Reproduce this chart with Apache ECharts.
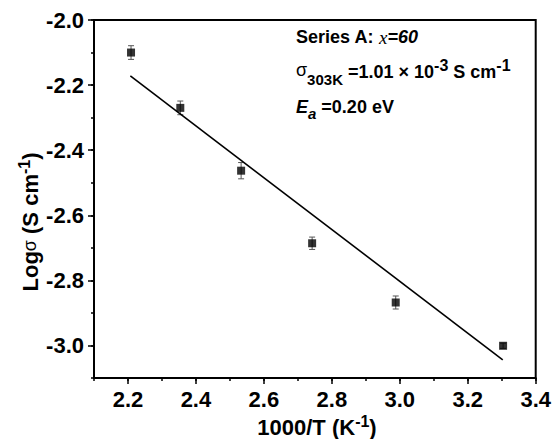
<!DOCTYPE html>
<html>
<head>
<meta charset="utf-8">
<script src="https://cdn.jsdelivr.net/npm/echarts@6/dist/echarts.min.js"></script>
<style>
  html, body { margin: 0; padding: 0; background: #fff; }
  #chart { width: 554px; height: 439px; }
</style>
</head>
<body>
<div id="chart"></div>
<script>
// measured points (1000/T, log sigma) with error bars
const xVals = [2.209, 2.354, 2.533, 2.742, 2.988, 3.304];
const yVals = [-2.100, -2.270, -2.463, -2.686, -2.868, -3.001];
const yErr = [0.021, 0.021, 0.025, 0.019, 0.020, 0.008];

// linear fit end points
const fitX = [2.207, 3.303];
const fitY = [-2.172, -3.044];

// major tick labels
const xMajor = [2.2, 2.4, 2.6, 2.8, 3.0, 3.2, 3.4];
const yMajor = [-3.0, -2.8, -2.6, -2.4, -2.2, -2.0];

const FONT = "'Liberation Sans', Arial, sans-serif";
const chart = echarts.init(document.getElementById('chart'), null, {renderer: 'svg'});

const lbl = {
  fontFamily: FONT,
  fontSize: 22,
  fontWeight: 'bold',
  color: '#000',
  formatter: v => v.toFixed(1)
};
const tickStyle = {color: '#000', width: 1.5};

const option = {
  animation: false,
  backgroundColor: '#fff',
  grid: {
    left: 94, right: 16, top: 20, bottom: 61,
    show: true, borderColor: '#000', borderWidth: 2
  },
  xAxis: [
    {
      type: 'value', min: 2.1, max: 3.4, interval: 0.1,
      axisLine: {show: true, lineStyle: {color: '#000', width: 2}},
      axisTick: {show: true, length: 3, lineStyle: tickStyle},
      axisLabel: {show: false},
      splitLine: {show: false}
    },
    {
      type: 'value', position: 'bottom', min: 2.1, max: 3.4,
      axisLine: {show: false},
      axisTick: {show: true, length: 6, customValues: xMajor, lineStyle: tickStyle},
      axisLabel: Object.assign({customValues: xMajor, margin: 10}, lbl),
      splitLine: {show: false}
    }
  ],
  yAxis: [
    {
      type: 'value', min: -3.1, max: -2.0, interval: 0.1,
      axisLine: {show: true, lineStyle: {color: '#000', width: 2}},
      axisTick: {show: true, length: 3, lineStyle: tickStyle},
      axisLabel: {show: false},
      splitLine: {show: false}
    },
    {
      type: 'value', position: 'left', min: -3.1, max: -2.0,
      axisLine: {show: false},
      axisTick: {show: true, length: 6, customValues: yMajor, lineStyle: tickStyle},
      axisLabel: Object.assign({customValues: yMajor, margin: 10}, lbl),
      splitLine: {show: false}
    }
  ],
  series: [
    {
      // error bars
      type: 'custom',
      xAxisIndex: 0, yAxisIndex: 0,
      data: xVals.map((x, i) => [x, yVals[i], yErr[i]]),
      encode: {x: 0, y: 1},
      renderItem: function (params, api) {
        const x = api.value(0), y = api.value(1), e = api.value(2);
        const top = api.coord([x, y + e]);
        const bot = api.coord([x, y - e]);
        const w = 3;
        const st = {stroke: '#555', lineWidth: 1};
        return {
          type: 'group',
          children: [
            {type: 'line', shape: {x1: top[0], y1: top[1], x2: bot[0], y2: bot[1]}, style: st},
            {type: 'line', shape: {x1: top[0] - w, y1: top[1], x2: top[0] + w, y2: top[1]}, style: st},
            {type: 'line', shape: {x1: bot[0] - w, y1: bot[1], x2: bot[0] + w, y2: bot[1]}, style: st}
          ]
        };
      },
      z: 2
    },
    {
      type: 'scatter',
      xAxisIndex: 0, yAxisIndex: 0,
      data: xVals.map((x, i) => [x, yVals[i]]),
      symbol: 'rect',
      symbolSize: 8,
      itemStyle: {color: '#000'},
      z: 3
    },
    {
      type: 'line',
      xAxisIndex: 0, yAxisIndex: 0,
      data: fitX.map((x, i) => [x, fitY[i]]),
      showSymbol: false,
      symbol: 'none',
      lineStyle: {color: '#000', width: 1.6},
      z: 4
    }
  ],
  graphic: [
    {
      type: 'text', x: 296, y: 37,
      style: {
        text: '{b|Series A: }{xi|x}{bi|=60}',
        verticalAlign: 'middle', align: 'left',
        rich: {
          b: {fontFamily: FONT, fontSize: 18, fontWeight: 'bold', fill: '#000'},
          xi: {fontFamily: "'Liberation Serif', serif", fontSize: 19, fontStyle: 'italic', fill: '#000'},
          bi: {fontFamily: FONT, fontSize: 18, fontWeight: 'bold', fontStyle: 'italic', fill: '#000'}
        }
      }
    },
    {
      type: 'text', x: 296, y: 72,
      style: {
        text: '{s|σ}{sub|303K}{b| =1.01 × 10}{sup|-3}{b| S cm}{sup|-1}',
        verticalAlign: 'middle', align: 'left',
        rich: {
          s: {fontFamily: FONT, fontSize: 18, fill: '#000', lineHeight: 18, padding: [0, 0, 4, 0]},
          b: {fontFamily: FONT, fontSize: 18, fontWeight: 'bold', fill: '#000', lineHeight: 18},
          sub: {fontFamily: FONT, fontSize: 15, fontWeight: 'bold', fill: '#000', lineHeight: 15, padding: [14, 0, 0, 0]},
          sup: {fontFamily: FONT, fontSize: 16, fontWeight: 'bold', fill: '#000', lineHeight: 16, padding: [0, 0, 13, 0]}
        }
      }
    },
    {
      type: 'text', x: 296, y: 107,
      style: {
        text: '{bi|E}{sub|a}{b| =0.20 eV}',
        verticalAlign: 'middle', align: 'left',
        rich: {
          bi: {fontFamily: FONT, fontSize: 18, fontWeight: 'bold', fontStyle: 'italic', fill: '#000', lineHeight: 18},
          b: {fontFamily: FONT, fontSize: 18, fontWeight: 'bold', fill: '#000', lineHeight: 18},
          sub: {fontFamily: FONT, fontSize: 15, fontWeight: 'bold', fontStyle: 'italic', fill: '#000', lineHeight: 15, padding: [12, 0, 0, 0]}
        }
      }
    },
    {
      type: 'text', x: 317, y: 427,
      style: {
        text: '{b|1000/T (K}{sup|-1}{b|)}',
        verticalAlign: 'middle', align: 'center',
        rich: {
          b: {fontFamily: FONT, fontSize: 22, fontWeight: 'bold', fill: '#000', lineHeight: 22},
          sup: {fontFamily: FONT, fontSize: 16, fontWeight: 'bold', fill: '#000', lineHeight: 16, padding: [0, 0, 12, 0]}
        }
      }
    },
    {
      type: 'text', x: 30, y: 222, rotation: Math.PI / 2,
      style: {
        text: '{b|Log}{s|σ}{b| (S cm}{sup|-1}{b|)}',
        verticalAlign: 'middle', align: 'center',
        rich: {
          b: {fontFamily: FONT, fontSize: 22, fontWeight: 'bold', fill: '#000', lineHeight: 22},
          s: {fontFamily: FONT, fontSize: 18, fill: '#000', lineHeight: 18},
          sup: {fontFamily: FONT, fontSize: 16, fontWeight: 'bold', fill: '#000', lineHeight: 16, padding: [0, 0, 12, 0]}
        }
      }
    }
  ]
};

chart.setOption(option);
</script>
</body>
</html>
